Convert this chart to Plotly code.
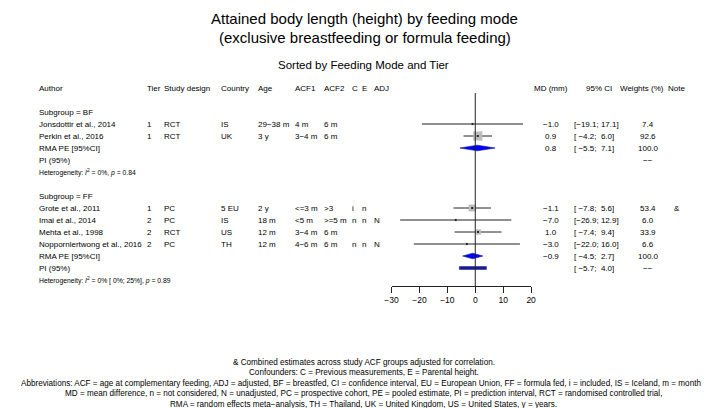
import plotly.graph_objects as go

W, H = 709, 408
FONT = "Liberation Sans, Arial, Helvetica, sans-serif"

title_lines = ["Attained body length (height) by feeding mode",
               "(exclusive breastfeeding or formula feeding)"]
subtitle = "Sorted by Feeding Mode and Tier"

headers_left = ["Author", "Tier", "Study design", "Country", "Age", "ACF1", "ACF2", "C", "E", "ADJ"]
headers_right = ["MD (mm)", "95% CI", "Weights (%)", "Note"]

# studies
subgroups = ["BF", "FF"]
group = ["BF", "BF", "FF", "FF", "FF", "FF"]
author = ["Jonsdottir et al., 2014", "Perkin et al., 2016", "Grote et al., 2011",
          "Imai et al., 2014", "Mehta et al., 1998", "Noppornlertwong et al., 2016"]
tier = ["1", "1", "1", "2", "2", "2"]
design = ["RCT", "RCT", "PC", "PC", "RCT", "PC"]
country = ["IS", "UK", "5 EU", "IS", "US", "TH"]
age = ["29−38 m", "3 y", "2 y", "18 m", "12 m", "12 m"]
acf1 = ["4 m", "3−4 m", "<=3 m", "<5 m", "3−4 m", "4−6 m"]
acf2 = ["6 m", "6 m", ">3", ">=5 m", "6 m", "6 m"]
conf_c = ["", "", "i", "n", "", "n"]
conf_e = ["", "", "n", "n", "", "n"]
adj = ["", "", "", "N", "", "N"]
md = [-1.0, 0.9, -1.1, -7.0, 1.0, -3.0]
ci_lo = [-19.1, -4.2, -7.8, -26.9, -7.4, -22.0]
ci_hi = [17.1, 6.0, 5.6, 12.9, 9.4, 16.0]
weight = [7.4, 92.6, 53.4, 6.0, 33.9, 6.6]
note = ["", "", "&", "", "", ""]

# random effects pooled estimates and prediction intervals per subgroup
pooled_md = [0.8, -0.9]
pooled_lo = [-5.5, -4.5]
pooled_hi = [7.1, 2.7]
pooled_w = [100.0, 100.0]
pi_lo = [None, -5.7]
pi_hi = [None, 4.0]
het_text = ["Heterogeneity: <i>I</i><sup>2</sup> = 0%, <i>p</i> = 0.84",
            "Heterogeneity: <i>I</i><sup>2</sup> = 0% [ 0%; 25%], <i>p</i> = 0.89"]

xticks = [-30, -20, -10, 0, 10, 20]

footnotes = [
    "& Combined estimates across study ACF groups adjusted for correlation.",
    "Confounders: C = Previous measurements, E = Parental height.",
    "Abbreviations: ACF = age at complementary feeding, ADJ = adjusted, BF = breastfed, CI = confidence interval, "
    "EU = European Union, FF = formula fed, i = included, IS = Iceland, m = months,",
    "MD = mean difference, n = not considered, N = unadjusted, PC = prospective cohort, PE = pooled estimate, "
    "PI = prediction interval, RCT = randomised controlled trial,",
    "RMA = random effects meta−analysis, TH = Thailand, UK = United Kingdom, US = United States, y = years.",
]

# column positions (pixels)
left_x = [22, 132, 150, 208, 245, 283, 312, 341, 351, 363]
md_x, ci_x, w_x, note_x = 545, 567, 644, 673
head_right_x = [545, 594, 638, 673]
axis_px = (383, 525)
row_h = 12
y_header = 80


def fmt(v):
    return f"{v:.1f}".replace("-", "−")


def fmt_ci(lo, hi):
    s = "[" + f"{lo:5.1f}" + "; " + f"{hi:4.1f}" + "]"
    return s.replace("-", "−").replace(" ", "\u00a0")


ann = []


def txt(x, y, s, size=8, anchor="left"):
    ann.append(dict(x=x / W, y=y, xref="paper", yref="y", text=s, showarrow=False,
                    xanchor=anchor, yanchor="middle", font=dict(size=size, color="black", family=FONT)))


# titles
txt(356, 10, title_lines[0], 15, "center")
txt(356, 29, title_lines[1], 15, "center")
txt(354, 57, subtitle, 11.5, "center")

for x, h in zip(left_x, headers_left):
    txt(x, y_header, h)
for x, h in zip(head_right_x, headers_right):
    txt(x, y_header, h, anchor="center")

fig = go.Figure()

y = y_header + 2 * row_h
for g, sg in enumerate(subgroups):
    txt(left_x[0], y, "Subgroup = " + sg)
    y += row_h
    idx = [i for i, gg in enumerate(group) if gg == sg]
    for i in idx:
        cols = [author[i], tier[i], design[i], country[i], age[i], acf1[i], acf2[i], conf_c[i], conf_e[i], adj[i]]
        for x, s in zip(left_x, cols):
            if s:
                txt(x, y, s)
        txt(md_x, y, fmt(md[i]), anchor="center")
        txt(ci_x, y, fmt_ci(ci_lo[i], ci_hi[i]))
        txt(w_x, y, f"{weight[i]:.1f}", anchor="center")
        if note[i]:
            txt(note_x, y, note[i], anchor="center")
        # CI line
        fig.add_trace(go.Scatter(x=[ci_lo[i], ci_hi[i]], y=[y, y], mode="lines",
                                 line=dict(color="#222222", width=1), hoverinfo="skip"))
        # weight square + point
        fig.add_trace(go.Scatter(x=[md[i]], y=[y], mode="markers",
                                 marker=dict(symbol="square", size=0.95 * weight[i] ** 0.5,
                                             color="#bdbdbd", line=dict(width=0)), hoverinfo="skip"))
        fig.add_trace(go.Scatter(x=[md[i]], y=[y], mode="markers",
                                 marker=dict(symbol="square", size=2, color="#222222", line=dict(width=0)),
                                 hoverinfo="skip"))
        y += row_h
    # pooled estimate diamond
    txt(left_x[0], y, "RMA PE [95%CI]")
    txt(md_x, y, fmt(pooled_md[g]), anchor="center")
    txt(ci_x, y, fmt_ci(pooled_lo[g], pooled_hi[g]))
    txt(w_x, y, f"{pooled_w[g]:.1f}", anchor="center")
    fig.add_trace(go.Scatter(x=[pooled_lo[g], pooled_md[g], pooled_hi[g], pooled_md[g], pooled_lo[g]],
                             y=[y, y - 2.8, y, y + 2.8, y], mode="lines", fill="toself",
                             fillcolor="#0000ff", line=dict(color="#1010a0", width=0.6), hoverinfo="skip"))
    y += row_h
    # prediction interval
    txt(left_x[0], y, "PI (95%)")
    txt(w_x, y, "−−", anchor="center")
    if pi_lo[g] is not None:
        txt(ci_x, y, fmt_ci(pi_lo[g], pi_hi[g]))
        fig.add_trace(go.Scatter(x=[pi_lo[g], pi_hi[g], pi_hi[g], pi_lo[g], pi_lo[g]],
                                 y=[y - 1.5, y - 1.5, y + 1.5, y + 1.5, y - 1.5], mode="lines",
                                 fill="toself", fillcolor="#1a1a8c", line=dict(color="#1a1a8c", width=0.5),
                                 hoverinfo="skip"))
    y += row_h
    txt(left_x[0], y, het_text[g], 6.8)
    y += 2 * row_h

# reference line at zero
fig.add_trace(go.Scatter(x=[0, 0], y=[85, 278], mode="lines",
                         line=dict(color="#222222", width=1), hoverinfo="skip"))

for k, s in enumerate(footnotes):
    txt(354.5, 354 + k * 10.5, s, 8.15, "center")

fig.update_layout(
    width=W, height=H, margin=dict(l=0, r=0, t=0, b=0),
    paper_bgcolor="white", plot_bgcolor="white", showlegend=False,
    annotations=ann,
    xaxis=dict(domain=[axis_px[0] / W, axis_px[1] / W], range=[-30, 20], anchor="free",
               position=(H - 278) / H, showgrid=False, zeroline=False, showline=True,
               linecolor="#222222", linewidth=1, ticks="outside", ticklen=6, tickcolor="#222222",
               tickvals=xticks, tickfont=dict(size=8.5, color="black", family=FONT)),
    yaxis=dict(domain=[0, 1], range=[H, 0], visible=False, showgrid=False, zeroline=False),
)

fig.write_html("out.html")
